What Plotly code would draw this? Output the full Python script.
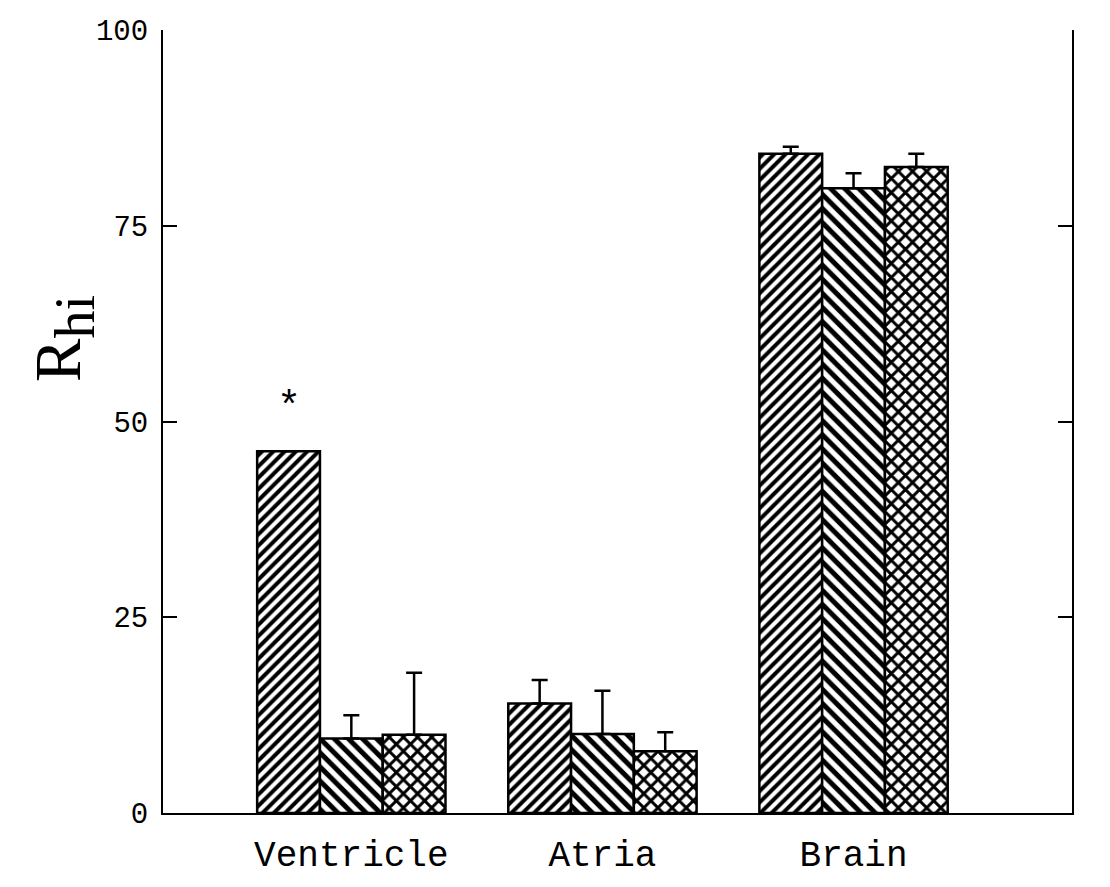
import plotly.graph_objects as go

categories = ["Ventricle", "Atria", "Brain"]
series1 = [46.2, 14.0, 84.2]
series1_err = [0.0, 3.0, 0.9]
series2 = [9.5, 10.1, 79.8]
series2_err = [3.0, 5.5, 1.9]
series3 = [10.0, 7.9, 82.5]
series3_err = [7.9, 2.4, 1.7]
y_ticks = [0, 25, 50, 75, 100]

x_idx = list(range(len(categories)))
bar_w = 0.25
patterns = [("/", 8, 0.5), ("\\", 10, 0.5), ("x", 10, 0.5)]
data = [(series1, series1_err), (series2, series2_err), (series3, series3_err)]

fig = go.Figure()
for i, ((vals, errs), (shape, size, sol)) in enumerate(zip(data, patterns)):
    fig.add_trace(go.Bar(
        x=x_idx, y=vals, width=bar_w, offset=-1.5 * bar_w + i * bar_w,
        marker=dict(color="white", line=dict(color="black", width=2.5),
                    pattern=dict(shape=shape, size=size, solidity=sol,
                                 fgcolor="#000000", fgopacity=1, bgcolor="white",
                                 fillmode="replace")),
        error_y=dict(type="data", array=errs, arrayminus=[0] * len(errs), symmetric=False,
                     color="black", thickness=2.5, width=8),
        showlegend=False,
    ))

fig.add_annotation(x=x_idx[0] - bar_w, y=series1[0] + 5.5, xref="x", yref="y",
                   text="*", showarrow=False,
                   font=dict(family="Liberation Mono", size=40, color="black"))

fig.add_annotation(x=-0.158, y=60.6, xref="paper", yref="y",
                   text="R<sub><span style='font-size:56px'>hi</span></sub>",
                   textangle=-90, showarrow=False,
                   font=dict(family="Liberation Serif", size=65, color="black"))

fig.update_layout(
    width=1102, height=879,
    margin=dict(l=155, r=38, t=22, b=74),
    paper_bgcolor="white", plot_bgcolor="white",
    xaxis=dict(range=[-0.75, 2.87], tickvals=x_idx, ticktext=categories,
               showline=True, linecolor="black", linewidth=2, ticks="",
               showgrid=False, zeroline=False, ticklabelstandoff=8, automargin=False,
               tickfont=dict(family="Liberation Mono", size=36, color="black")),
    yaxis=dict(range=[0, 100], tickvals=y_ticks, ticks="inside", ticklen=14,
               tickwidth=2, tickcolor="black", showline=True, linecolor="black",
               linewidth=2, mirror="ticks", showgrid=False, zeroline=False,
               ticklabelstandoff=7, automargin=False,
               tickfont=dict(family="Liberation Mono", size=29, color="black")),
)

fig.write_html("out.html")
